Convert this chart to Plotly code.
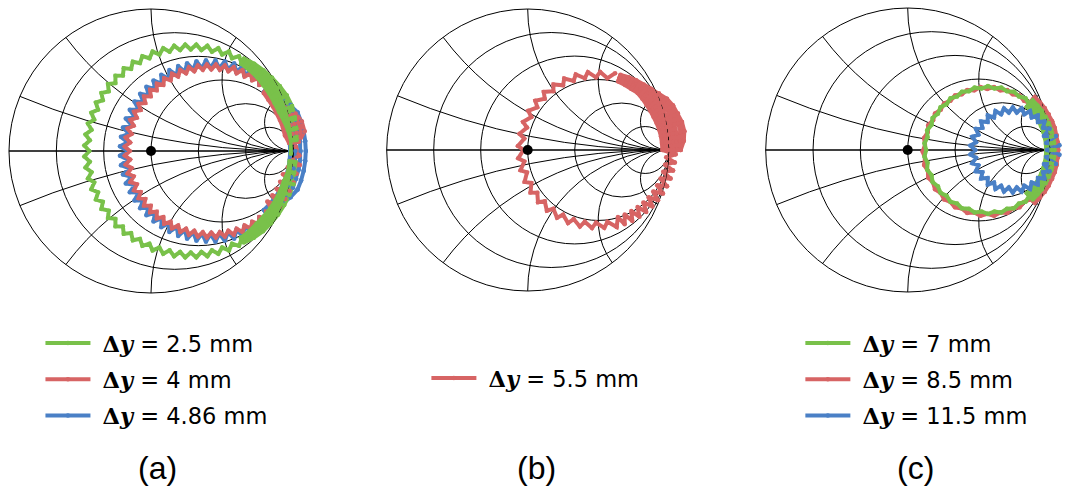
import numpy as np
import plotly.graph_objects as go

# Measured reflection coefficients Γ = (real, imag), one list per spacing Δy

# (a) Δy = 2.5 mm
gamma_a_2p5 = [
    (0.985, -0.020),
    (0.986, 0.074), (0.965, 0.146), (0.936, 0.213), (0.901, 0.277), (0.869, 0.340), (0.834, 0.403),
    (0.793, 0.462), (0.748, 0.520), (0.694, 0.570), (0.635, 0.615),
    (0.640, 0.624), (0.703, 0.582), (0.759, 0.532), (0.808, 0.475), (0.852, 0.416), (0.891, 0.353),
    (0.924, 0.287), (0.955, 0.219), (0.979, 0.149), (0.996, 0.075),
    (1.006, 0.076), (0.994, 0.152), (0.974, 0.226), (0.947, 0.297), (0.912, 0.365), (0.871, 0.429),
    (0.823, 0.488), (0.770, 0.544), (0.711, 0.593), (0.645, 0.632),
    (0.650, 0.641), (0.719, 0.604), (0.781, 0.557), (0.837, 0.502), (0.889, 0.442), (0.934, 0.378),
    (0.970, 0.307), (0.993, 0.232), (1.009, 0.155), (1.016, 0.077),
    (1.026, 0.078), (1.023, 0.158), (1.012, 0.238), (0.993, 0.317), (0.956, 0.390), (0.907, 0.456),
    (0.852, 0.515), (0.792, 0.568), (0.727, 0.615), (0.655, 0.650),
    (0.638, 0.619), (0.620, 0.668), (0.571, 0.653), (0.549, 0.700), (0.501, 0.680), (0.474, 0.724),
    (0.429, 0.699), (0.397, 0.741), (0.355, 0.711), (0.319, 0.749), (0.280, 0.715), (0.241, 0.749),
    (0.205, 0.711), (0.163, 0.741), (0.131, 0.699), (0.086, 0.724), (0.059, 0.680), (0.011, 0.700),
    (-0.011, 0.653), (-0.061, 0.668), (-0.078, 0.619), (-0.128, 0.629), (-0.140, 0.578), (-0.192, 0.583),
    (-0.198, 0.531), (-0.250, 0.530), (-0.251, 0.478), (-0.303, 0.472), (-0.298, 0.420), (-0.349, 0.408),
    (-0.339, 0.358), (-0.388, 0.341), (-0.373, 0.291), (-0.420, 0.269), (-0.400, 0.221), (-0.444, 0.194),
    (-0.419, 0.149), (-0.461, 0.117), (-0.431, 0.075), (-0.469, 0.039), (-0.435, 0.000),
    (-0.469, -0.039), (-0.431, -0.075), (-0.461, -0.117), (-0.419, -0.149), (-0.444, -0.194),
    (-0.400, -0.221), (-0.420, -0.269), (-0.373, -0.291), (-0.388, -0.341), (-0.339, -0.358),
    (-0.349, -0.408), (-0.298, -0.420), (-0.303, -0.472), (-0.251, -0.478), (-0.250, -0.530),
    (-0.198, -0.531), (-0.192, -0.583), (-0.140, -0.578), (-0.128, -0.629), (-0.078, -0.619),
    (-0.061, -0.668), (-0.011, -0.653), (0.011, -0.700), (0.059, -0.680), (0.086, -0.724),
    (0.131, -0.699), (0.163, -0.741), (0.205, -0.711), (0.241, -0.749), (0.280, -0.715),
    (0.319, -0.749), (0.355, -0.711), (0.397, -0.741), (0.429, -0.699), (0.474, -0.724),
    (0.501, -0.680), (0.549, -0.700), (0.571, -0.653), (0.620, -0.668), (0.638, -0.619),
    (0.633, -0.611), (0.692, -0.566), (0.742, -0.513), (0.793, -0.462), (0.838, -0.406), (0.878, -0.345),
    (0.910, -0.281), (0.936, -0.213), (0.965, -0.146), (0.976, -0.073),
    (0.989, -0.075), (0.979, -0.149), (0.958, -0.220), (0.932, -0.290), (0.898, -0.357), (0.857, -0.419),
    (0.810, -0.477), (0.757, -0.530), (0.702, -0.581), (0.639, -0.622),
    (0.646, -0.634), (0.713, -0.596), (0.773, -0.547), (0.827, -0.493), (0.876, -0.433), (0.918, -0.368),
    (0.953, -0.300), (0.981, -0.228), (0.994, -0.152), (1.003, -0.076),
    (1.016, -0.077), (1.009, -0.155), (1.003, -0.235), (0.974, -0.309), (0.938, -0.380), (0.895, -0.447),
    (0.845, -0.509), (0.789, -0.565), (0.724, -0.611), (0.653, -0.645),
]

# (a) Δy = 4 mm
gamma_a_4 = [
    (0.793, 0.409), (0.826, 0.361), (0.858, 0.314), (0.884, 0.265), (0.909, 0.216), (0.929, 0.164),
    (0.943, 0.110), (0.972, 0.057),
    (0.986, 0.059), (0.971, 0.116), (0.956, 0.172), (0.931, 0.225), (0.898, 0.273), (0.868, 0.322),
    (0.834, 0.368), (0.798, 0.414),
    (0.802, 0.419), (0.841, 0.375), (0.879, 0.330), (0.912, 0.281), (0.953, 0.235), (0.982, 0.181),
    (0.998, 0.122), (1.000, 0.060),
    (1.014, 0.062), (1.026, 0.128), (1.009, 0.190), (0.975, 0.245), (0.926, 0.289), (0.889, 0.337),
    (0.849, 0.381), (0.807, 0.424),
    (0.812, 0.430), (0.856, 0.388), (0.900, 0.345), (0.939, 0.297), (0.997, 0.255), (1.036, 0.198),
    (1.053, 0.133), (1.028, 0.063),
    (1.042, 0.065), (1.081, 0.139), (1.062, 0.207), (1.019, 0.264), (0.953, 0.305), (0.910, 0.353),
    (0.863, 0.395), (0.816, 0.435),
    (0.810, 0.427), (0.809, 0.474), (0.763, 0.465), (0.757, 0.512), (0.713, 0.498), (0.702, 0.544),
    (0.659, 0.525), (0.644, 0.570), (0.603, 0.547), (0.583, 0.589), (0.545, 0.562), (0.520, 0.602),
    (0.485, 0.572), (0.457, 0.609), (0.425, 0.575), (0.393, 0.609), (0.365, 0.572), (0.330, 0.602),
    (0.305, 0.562), (0.267, 0.589), (0.247, 0.547), (0.206, 0.570), (0.191, 0.525), (0.148, 0.544),
    (0.138, 0.498), (0.093, 0.512), (0.087, 0.465), (0.041, 0.474), (0.040, 0.427), (-0.006, 0.431),
    (-0.002, 0.385), (-0.049, 0.384), (-0.040, 0.338), (-0.087, 0.332), (-0.073, 0.288), (-0.119, 0.277),
    (-0.100, 0.234), (-0.145, 0.219), (-0.122, 0.178), (-0.164, 0.158), (-0.137, 0.120), (-0.178, 0.095),
    (-0.147, 0.060), (-0.184, 0.032), (-0.150, 0.000),
    (-0.184, -0.032), (-0.147, -0.060), (-0.178, -0.095), (-0.137, -0.120), (-0.164, -0.158),
    (-0.122, -0.178), (-0.145, -0.219), (-0.100, -0.234), (-0.119, -0.277), (-0.073, -0.288),
    (-0.087, -0.332), (-0.040, -0.338), (-0.049, -0.384), (-0.002, -0.385), (-0.006, -0.431),
    (0.040, -0.427), (0.041, -0.474), (0.087, -0.465), (0.093, -0.512), (0.138, -0.498),
    (0.148, -0.544), (0.191, -0.525), (0.206, -0.570), (0.247, -0.547), (0.267, -0.589),
    (0.305, -0.562), (0.330, -0.602), (0.365, -0.572), (0.393, -0.609), (0.425, -0.575),
    (0.457, -0.609), (0.485, -0.572), (0.520, -0.602), (0.545, -0.562), (0.583, -0.589),
    (0.603, -0.547), (0.644, -0.570), (0.659, -0.525), (0.702, -0.544), (0.713, -0.498),
    (0.757, -0.512), (0.763, -0.465), (0.809, -0.474), (0.810, -0.427),
    (0.863, -0.438), (0.819, -0.355), (0.907, -0.390), (0.854, -0.312), (0.945, -0.338), (0.884, -0.265),
    (0.977, -0.281), (0.909, -0.216), (1.004, -0.222), (0.929, -0.164), (1.024, -0.160), (0.963, -0.114),
    (1.047, -0.099), (1.002, -0.061), (1.044, -0.032), (1.020, 0.030),
]

# (a) Δy = 4.86 mm
gamma_a_4p86 = [
    (0.811, 0.435), (0.823, 0.497), (0.764, 0.473), (0.769, 0.537), (0.713, 0.507), (0.711, 0.570),
    (0.658, 0.534), (0.649, 0.598), (0.601, 0.556), (0.586, 0.618), (0.542, 0.572), (0.520, 0.632),
    (0.481, 0.582), (0.454, 0.639), (0.420, 0.585), (0.387, 0.639), (0.359, 0.582), (0.320, 0.632),
    (0.298, 0.572), (0.254, 0.618), (0.239, 0.556), (0.191, 0.598), (0.182, 0.534), (0.129, 0.570),
    (0.128, 0.507), (0.072, 0.537), (0.076, 0.473), (0.017, 0.497), (0.029, 0.435), (-0.033, 0.453),
    (-0.015, 0.391), (-0.077, 0.403), (-0.053, 0.344), (-0.117, 0.349), (-0.087, 0.293), (-0.150, 0.291),
    (-0.114, 0.238), (-0.178, 0.229), (-0.136, 0.181), (-0.198, 0.166), (-0.152, 0.122), (-0.212, 0.100),
    (-0.162, 0.061), (-0.219, 0.033), (-0.165, 0.000),
    (-0.219, -0.033), (-0.162, -0.061), (-0.212, -0.100), (-0.152, -0.122), (-0.198, -0.166),
    (-0.136, -0.181), (-0.178, -0.229), (-0.114, -0.238), (-0.150, -0.291), (-0.087, -0.293),
    (-0.117, -0.349), (-0.053, -0.344), (-0.077, -0.403), (-0.015, -0.391), (-0.033, -0.453),
    (0.029, -0.435), (0.017, -0.497), (0.076, -0.473), (0.072, -0.537), (0.128, -0.507),
    (0.129, -0.570), (0.182, -0.534), (0.191, -0.598), (0.239, -0.556), (0.254, -0.618),
    (0.298, -0.572), (0.320, -0.632), (0.359, -0.582), (0.387, -0.639), (0.420, -0.585),
    (0.454, -0.639), (0.481, -0.582), (0.520, -0.632), (0.542, -0.572), (0.586, -0.618),
    (0.601, -0.556), (0.649, -0.598), (0.658, -0.534), (0.711, -0.570), (0.713, -0.507),
    (0.769, -0.537), (0.764, -0.473), (0.823, -0.497), (0.811, -0.435),
    (0.795, -0.416), (0.836, -0.375), (0.873, -0.329), (0.905, -0.280), (0.932, -0.228), (0.953, -0.173),
    (0.968, -0.116), (0.977, -0.059), (0.980, 0.000), (0.977, 0.059), (0.968, 0.116), (0.953, 0.173),
    (0.932, 0.228), (0.905, 0.280), (0.873, 0.329), (0.836, 0.375), (0.795, 0.416),
    (0.806, 0.429), (0.851, 0.388), (0.892, 0.343), (0.931, 0.295), (0.965, 0.243), (0.988, 0.184),
    (1.004, 0.124), (1.013, 0.062), (1.017, 0.000), (1.013, -0.062), (1.004, -0.124), (0.988, -0.184),
    (0.965, -0.243), (0.931, -0.295), (0.892, -0.343), (0.851, -0.388), (0.806, -0.429),
    (0.817, -0.441), (0.866, -0.401), (0.911, -0.357), (0.957, -0.310), (0.999, -0.258), (1.022, -0.196),
    (1.039, -0.132), (1.050, -0.066), (1.053, 0.000), (1.050, 0.066), (1.039, 0.132), (1.022, 0.196),
    (0.999, 0.258), (0.957, 0.310), (0.911, 0.357), (0.866, 0.401), (0.817, 0.441),
    (0.828, 0.453), (0.881, 0.415), (0.930, 0.370), (0.983, 0.325), (1.032, 0.272), (1.057, 0.207),
    (1.075, 0.139), (1.086, 0.070), (1.090, 0.000), (1.086, -0.070), (1.075, -0.139), (1.057, -0.207),
    (1.032, -0.272), (0.983, -0.325), (0.930, -0.370), (0.881, -0.415), (0.828, -0.453),
]

# (b) Δy = 5.5 mm
gamma_b_5p5 = [
    (0.620, 0.545),
    (0.566, 0.509), (0.514, 0.554), (0.485, 0.515), (0.427, 0.552), (0.405, 0.509), (0.341, 0.536),
    (0.326, 0.490), (0.259, 0.507), (0.251, 0.459), (0.183, 0.465), (0.182, 0.417), (0.114, 0.412),
    (0.121, 0.364), (0.054, 0.349), (0.068, 0.303), (0.004, 0.278), (0.026, 0.234), (-0.033, 0.199),
    (-0.005, 0.159), (-0.058, 0.115), (-0.024, 0.081), (-0.069, 0.029), (-0.030, 0.000), (-0.067, -0.058),
    (-0.024, -0.081), (-0.051, -0.144), (-0.005, -0.159), (-0.022, -0.226), (0.026, -0.234), (0.020, -0.302),
    (0.068, -0.303), (0.073, -0.371), (0.121, -0.364), (0.136, -0.431), (0.182, -0.417), (0.208, -0.481),
    (0.251, -0.459), (0.286, -0.518), (0.326, -0.490), (0.370, -0.543), (0.405, -0.509), (0.456, -0.554),
    (0.485, -0.515), (0.543, -0.552), (0.566, -0.509),
    (0.631, -0.546), (0.640, -0.476), (0.688, -0.527), (0.688, -0.457), (0.742, -0.503), (0.735, -0.433),
    (0.793, -0.474), (0.779, -0.405), (0.841, -0.439), (0.820, -0.372), (0.885, -0.400), (0.857, -0.335),
    (0.924, -0.356), (0.890, -0.294), (0.959, -0.308), (0.918, -0.250), (0.988, -0.257), (0.942, -0.203),
    (1.013, -0.202), (0.961, -0.155), (1.031, -0.146), (0.974, -0.104), (1.043, -0.088), (0.982, -0.052),
    (1.049, -0.030),
    (0.955, 0.000), (0.952, 0.049), (0.945, 0.098), (0.932, 0.145), (0.914, 0.191), (0.892, 0.235),
    (0.869, 0.279), (0.842, 0.321), (0.813, 0.364), (0.779, 0.405), (0.735, 0.433), (0.690, 0.461),
    (0.643, 0.485),
    (0.645, 0.493), (0.695, 0.470), (0.741, 0.443), (0.786, 0.415), (0.824, 0.376), (0.857, 0.335),
    (0.889, 0.293), (0.915, 0.249), (0.940, 0.202), (0.959, 0.154), (0.972, 0.104), (0.978, 0.052),
    (0.977, 0.000),
    (0.998, 0.000), (1.004, 0.055), (1.000, 0.110), (0.986, 0.163), (0.965, 0.214), (0.938, 0.262),
    (0.908, 0.307), (0.871, 0.348), (0.834, 0.388), (0.794, 0.425), (0.747, 0.453), (0.699, 0.480),
    (0.648, 0.501),
    (0.650, 0.509), (0.703, 0.489), (0.753, 0.463), (0.801, 0.435), (0.845, 0.399), (0.886, 0.361),
    (0.928, 0.322), (0.961, 0.275), (0.990, 0.225), (1.013, 0.171), (1.028, 0.115), (1.030, 0.057),
    (1.020, 0.000),
    (1.042, 0.000), (1.055, 0.060), (1.055, 0.121), (1.040, 0.180), (1.015, 0.236), (0.985, 0.289),
    (0.948, 0.336), (0.901, 0.375), (0.855, 0.411), (0.808, 0.445), (0.759, 0.474), (0.707, 0.498),
    (0.653, 0.516),
    (0.656, 0.525), (0.711, 0.507), (0.764, 0.483), (0.816, 0.455), (0.866, 0.423), (0.916, 0.388),
    (0.967, 0.350), (1.007, 0.302), (1.040, 0.247), (1.067, 0.189), (1.084, 0.127), (1.081, 0.063),
    (1.063, 0.000),
    (1.085, 0.000), (1.107, 0.065), (1.111, 0.133), (1.094, 0.198), (1.065, 0.258), (1.031, 0.315),
    (0.987, 0.364), (0.931, 0.401), (0.876, 0.435), (0.823, 0.465), (0.770, 0.494), (0.715, 0.516),
    (0.658, 0.533),
]

# (c) Δy = 7 mm
gamma_c_7 = [
    (0.856, 0.323), (0.830, 0.364), (0.783, 0.377), (0.748, 0.411), (0.699, 0.414), (0.659, 0.440),
    (0.611, 0.433), (0.565, 0.450), (0.520, 0.433), (0.471, 0.440), (0.431, 0.414), (0.382, 0.411),
    (0.348, 0.377), (0.301, 0.364), (0.274, 0.323), (0.231, 0.301), (0.213, 0.256), (0.175, 0.225),
    (0.168, 0.177), (0.137, 0.139), (0.140, 0.090), (0.118, 0.047), (0.130, 0.000), (0.118, -0.047),
    (0.140, -0.090), (0.137, -0.139), (0.168, -0.177), (0.175, -0.225), (0.213, -0.256), (0.231, -0.301),
    (0.274, -0.323), (0.301, -0.364), (0.348, -0.377), (0.382, -0.411), (0.431, -0.414), (0.471, -0.440),
    (0.520, -0.433), (0.565, -0.450), (0.611, -0.433), (0.659, -0.440), (0.699, -0.414), (0.748, -0.411),
    (0.783, -0.377), (0.830, -0.364), (0.856, -0.323),
    (0.839, -0.305), (0.870, -0.274), (0.897, -0.241), (0.920, -0.205), (0.940, -0.167), (0.955, -0.127),
    (0.966, -0.085), (0.973, -0.043), (0.975, 0.000), (0.973, 0.043), (0.966, 0.085), (0.955, 0.127),
    (0.940, 0.167), (0.920, 0.205), (0.897, 0.241), (0.870, 0.274), (0.839, 0.305),
    (0.853, 0.320), (0.885, 0.288), (0.913, 0.253), (0.937, 0.215), (0.958, 0.175), (0.974, 0.133),
    (0.986, 0.089), (0.993, 0.045), (0.995, 0.000), (0.993, -0.045), (0.986, -0.089), (0.974, -0.133),
    (0.958, -0.175), (0.937, -0.215), (0.913, -0.253), (0.885, -0.288), (0.853, -0.320),
    (0.866, -0.334), (0.899, -0.301), (0.929, -0.265), (0.955, -0.225), (0.976, -0.183), (0.993, -0.139),
    (1.005, -0.094), (1.013, -0.047), (1.015, 0.000), (1.013, 0.047), (1.005, 0.094), (0.993, 0.139),
    (0.976, 0.183), (0.955, 0.225), (0.929, 0.265), (0.899, 0.301), (0.866, 0.334),
    (0.880, 0.349), (0.914, 0.314), (0.945, 0.276), (0.972, 0.235), (0.994, 0.191), (1.012, 0.145),
    (1.025, 0.098), (1.032, 0.049), (1.035, 0.000), (1.032, -0.049), (1.025, -0.098), (1.012, -0.145),
    (0.994, -0.191), (0.972, -0.235), (0.945, -0.276), (0.914, -0.314), (0.880, -0.349),
]

# (c) Δy = 8.5 mm
gamma_c_8p5 = [
    (0.868, -0.342), (0.902, -0.308), (0.932, -0.270), (0.958, -0.230), (0.980, -0.187), (0.998, -0.142),
    (1.010, -0.096), (1.018, -0.048), (1.020, 0.000), (1.018, 0.048), (1.010, 0.096), (0.998, 0.142),
    (0.980, 0.187), (0.958, 0.230), (0.932, 0.270), (0.902, 0.308), (0.868, 0.342),
    (0.881, 0.357), (0.917, 0.321), (0.948, 0.282), (0.976, 0.240), (0.999, 0.195), (1.017, 0.148),
    (1.030, 0.100), (1.037, 0.050), (1.040, 0.000), (1.037, -0.050), (1.030, -0.100), (1.017, -0.148),
    (0.999, -0.195), (0.976, -0.240), (0.948, -0.282), (0.917, -0.321), (0.881, -0.357),
    (0.895, -0.372), (0.932, -0.335), (0.965, -0.294), (0.993, -0.250), (1.017, -0.203), (1.036, -0.155),
    (1.049, -0.104), (1.057, -0.052), (1.060, 0.000), (1.057, 0.052), (1.049, 0.104), (1.036, 0.155),
    (1.017, 0.203), (0.993, 0.250), (0.965, 0.294), (0.932, 0.335), (0.895, 0.372),
    (0.864, 0.328), (0.819, 0.346), (0.788, 0.384), (0.739, 0.392), (0.701, 0.423), (0.652, 0.420),
    (0.608, 0.443), (0.560, 0.430), (0.513, 0.443), (0.469, 0.420), (0.419, 0.423), (0.381, 0.392),
    (0.333, 0.384), (0.301, 0.346), (0.256, 0.328), (0.233, 0.284), (0.192, 0.257), (0.179, 0.210),
    (0.144, 0.175), (0.142, 0.126), (0.115, 0.085), (0.122, 0.036), (0.105, -0.010), (0.122, -0.056),
    (0.115, -0.105), (0.142, -0.146), (0.144, -0.195), (0.179, -0.230), (0.192, -0.277), (0.233, -0.304),
    (0.256, -0.348), (0.301, -0.366), (0.333, -0.404), (0.381, -0.412), (0.419, -0.443), (0.469, -0.440),
    (0.513, -0.463), (0.560, -0.450), (0.608, -0.463), (0.652, -0.440), (0.701, -0.443), (0.739, -0.412),
    (0.788, -0.404), (0.819, -0.366), (0.864, -0.348),
]

# (c) Δy = 11.5 mm
gamma_c_11p5 = [
    (0.954, 0.156), (0.963, 0.201), (0.917, 0.197), (0.916, 0.243), (0.873, 0.229), (0.862, 0.274),
    (0.822, 0.252), (0.802, 0.293), (0.768, 0.264), (0.740, 0.300), (0.712, 0.264), (0.678, 0.293),
    (0.658, 0.252), (0.618, 0.274), (0.608, 0.229), (0.564, 0.243), (0.563, 0.197), (0.517, 0.201),
    (0.526, 0.156), (0.480, 0.150), (0.498, 0.108), (0.455, 0.093), (0.481, 0.055), (0.442, 0.031),
    (0.475, 0.000), (0.442, -0.031), (0.481, -0.055), (0.455, -0.093), (0.498, -0.108), (0.480, -0.150),
    (0.526, -0.156), (0.517, -0.201), (0.563, -0.197), (0.564, -0.243), (0.608, -0.229), (0.618, -0.274),
    (0.658, -0.252), (0.678, -0.293), (0.712, -0.264), (0.740, -0.300), (0.768, -0.264), (0.802, -0.293),
    (0.822, -0.252), (0.862, -0.274), (0.873, -0.229), (0.916, -0.243), (0.917, -0.197), (0.963, -0.201),
    (0.954, -0.156),
    (1.000, -0.150), (0.959, -0.098), (1.044, -0.099), (0.975, -0.050), (1.068, -0.034), (0.980, 0.000),
    (1.068, 0.034), (0.975, 0.050), (1.044, 0.099), (0.959, 0.098), (1.000, 0.150), (0.954, 0.156),
]

GREEN = "#79c14a"
RED = "#d76464"
BLUE = "#4a80c6"

LABEL_FMT = "\u00a0<span style='font-family:DejaVu Serif'><b>Δ<i>y</i></b></span> = {} mm"

# Each panel: Smith subplot, its Γ-plane overlay axes, legend, smith domain,
# overlay domain/range, and curves in drawing order (bottom to top).
PANELS = [
    dict(smith="smith", xa="x", ya="y", legend="legend",
         smith_dom=([0.00841, 0.27383], [0.40204, 0.98163]),
         ov_dom=([0.0, 0.299065], [0.367347, 1.0]),
         ov_rng=([-1.06338, 1.19014], [-1.11972, 1.06338]),
         curves=[(gamma_a_4p86, BLUE, "4.86", 3), (gamma_a_4, RED, "4", 2),
                 (gamma_a_2p5, GREEN, "2.5", 1)]),
    dict(smith="smith2", xa="x2", ya="y2", legend="legend2",
         smith_dom=([0.36140, 0.62495], [0.40612, 0.98163]),
         ov_dom=([0.352336, 0.651402], [0.367347, 1.0]),
         ov_rng=([-1.06879, 1.20071], [-1.13475, 1.06383]),
         curves=[(gamma_b_5p5, RED, "5.5", 1)]),
    dict(smith="smith3", xa="x3", ya="y3", legend="legend3",
         smith_dom=([0.71561, 0.98103], [0.40408, 0.98367]),
         ov_dom=([0.700935, 1.0], [0.367347, 1.0]),
         ov_rng=([-1.11056, 1.14296], [-1.12676, 1.05634]),
         curves=[(gamma_c_8p5, RED, "8.5", 2), (gamma_c_7, GREEN, "7", 1),
                 (gamma_c_11p5, BLUE, "11.5", 3)]),
]

LINE_W = 4
MARK_S = 4.5


def to_impedance(g):
    """Normalized impedance z = (1 + Γ) / (1 - Γ) for scattersmith."""
    z = (1 + g) / (1 - g)
    return z.real, z.imag


fig = go.Figure()

for p in PANELS:
    for pairs, color, label, rank in p["curves"]:
        g = np.array([complex(re, im) for re, im in pairs])
        # Γ-plane copy underneath the Smith disc: shows the parts with |Γ| > 1
        fig.add_trace(go.Scatter(
            x=g.real, y=g.imag, mode="lines+markers", xaxis=p["xa"], yaxis=p["ya"],
            line=dict(color=color, width=LINE_W), marker=dict(color=color, size=MARK_S),
            showlegend=False, hoverinfo="skip", cliponaxis=False,
        ))
        re, im = to_impedance(g)
        fig.add_trace(go.Scattersmith(
            real=re, imag=im, mode="lines+markers", subplot=p["smith"],
            line=dict(color=color, width=LINE_W), marker=dict(color=color, size=MARK_S),
            name=LABEL_FMT.format(label), legend=p["legend"],
            legendrank=rank, legendgroup=f"{p['smith']}-{rank}",
            cliponaxis=False, hoverinfo="skip",
        ))
    # matched load marker at the chart centre
    fig.add_trace(go.Scattersmith(
        real=[1.0], imag=[0.0], mode="markers", subplot=p["smith"],
        marker=dict(color="black", size=10), showlegend=False,
        hoverinfo="skip", cliponaxis=False,
    ))

axis_style = dict(
    showticklabels=False, ticks="", showgrid=True, gridcolor="black", gridwidth=1,
    showline=True, linecolor="black", linewidth=1, layer="below traces",
)

layout = dict(
    width=1070, height=490,
    margin=dict(l=0, r=0, t=0, b=0),
    paper_bgcolor="white", plot_bgcolor="rgba(0,0,0,0)",
    font=dict(family="Liberation Sans, Arial, sans-serif", color="black"),
    showlegend=True,
)

legend_style = dict(
    xanchor="left", yanchor="top", bgcolor="rgba(0,0,0,0)", borderwidth=0,
    font=dict(family="DejaVu Sans, sans-serif", size=22.5, color="black"),
    itemwidth=45, tracegroupgap=4, traceorder="grouped",
)
legend_pos = {"legend": (0.0378, 0.3430), "legend2": (0.3985, 0.2716), "legend3": (0.7480, 0.3430)}

for p in PANELS:
    (sx, sy) = p["smith_dom"]
    layout[p["smith"]] = dict(
        domain=dict(x=sx, y=sy), bgcolor="white",
        realaxis=axis_style, imaginaryaxis=axis_style,
    )
    (ox, oy), (rx, ry) = p["ov_dom"], p["ov_rng"]
    xname = "xaxis" + p["xa"][1:]
    yname = "yaxis" + p["ya"][1:]
    layout[xname] = dict(domain=ox, range=rx, anchor=p["ya"], visible=False,
                         showgrid=False, zeroline=False, fixedrange=True)
    layout[yname] = dict(domain=oy, range=ry, anchor=p["xa"], visible=False,
                         showgrid=False, zeroline=False, fixedrange=True)
    lx, ly = legend_pos[p["legend"]]
    layout[p["legend"]] = dict(x=lx, y=ly, **legend_style)

layout["annotations"] = [
    dict(text=t, x=x, y=0.045, xref="paper", yref="paper", showarrow=False,
         xanchor="center", yanchor="middle",
         font=dict(family="Liberation Sans, Arial, sans-serif", size=32, color="black"))
    for t, x in [("(a)", 0.1472), ("(b)", 0.5016), ("(c)", 0.856)]
]

fig.update_layout(**layout)
fig.write_html("out.html")
